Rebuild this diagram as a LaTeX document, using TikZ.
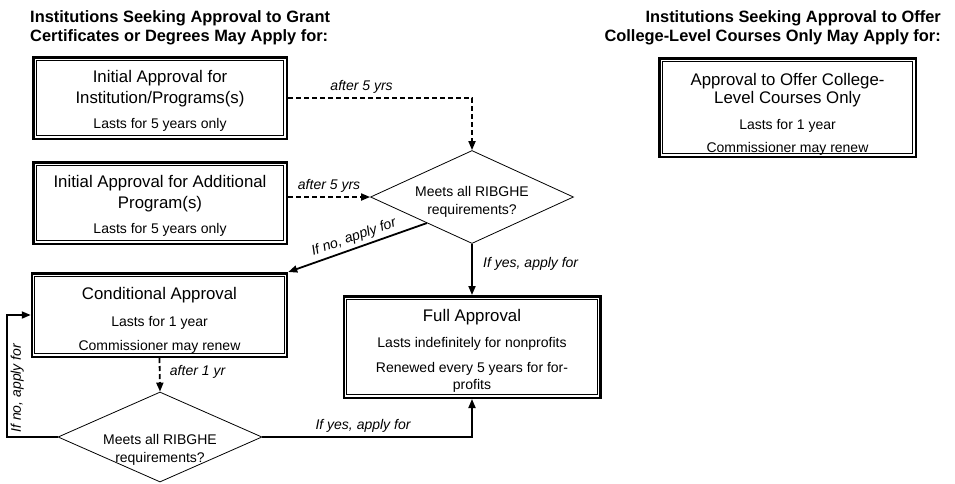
\documentclass[tikz,border=0pt]{standalone}
\usepackage{fontspec}
\setmainfont{Liberation Sans}
\usetikzlibrary{shapes.geometric,arrows.meta}

\newcommand{\boxtitle}{\fontsize{16.8}{20.5}\selectfont}
\newcommand{\boxsub}{\fontsize{14}{16.5}\selectfont}
\newcommand{\boxdrop}[1]{\rule{0pt}{#1}}
\newcommand{\checklines}[1]{\raisebox{#1}[0pt][0pt]{\begin{tabular}{@{}c@{}}Meets all RIBGHE\\requirements?\end{tabular}}}

\begin{document}
\begin{tikzpicture}[x=1pt, y=-1pt,
    heading/.style={font=\bfseries\fontsize{16.4}{19}\selectfont, inner sep=0pt},
    apbox/.style={draw, line width=2.5pt, align=center, inner sep=0pt, font=\boxtitle},
    decision/.style={draw, diamond, aspect=2.2, line width=0.8pt, inner sep=0pt, font=\fontsize{14}{18}\selectfont},
    link/.style={line width=1.8pt, -{Triangle[length=9pt,width=7pt]}},
    wait/.style={link, dash pattern=on 5pt off 3pt},
    tag/.style={font=\itshape\fontsize{14}{16}\selectfont}]
  \useasboundingbox (0,0) rectangle (955,483);

  \node[heading, anchor=west, align=left] (granttitle) at (30,28) {Institutions Seeking Approval to Grant\\Certificates or Degrees May Apply for:};
  \node[heading, anchor=east, align=right] (offertitle) at (941,28) {Institutions Seeking Approval to Offer\\College-Level Courses Only May Apply for:};

  \node[apbox, minimum width=253.5pt, minimum height=81.5pt] (initinst) at (160,98) {\boxdrop{18.3pt}Initial Approval for\\Institution/Programs(s)\\[4.5pt]\boxsub Lasts for 5 years only};
  \node[apbox, minimum width=253.5pt, minimum height=81.5pt] (initprog) at (160,203) {\boxdrop{18.3pt}Initial Approval for Additional\\Program(s)\\[4.5pt]\boxsub Lasts for 5 years only};
  \node[apbox, minimum width=255pt, minimum height=83.5pt] (cond) at (159.5,315) {\boxdrop{22.4pt}Conditional Approval\\[6.5pt]\boxsub Lasts for 1 year\\[3.5pt]\boxsub Commissioner may renew};
  \node[apbox, minimum width=256.5pt, minimum height=101.5pt] (full) at (472,347) {\boxdrop{20.3pt}Full Approval\\[5.5pt]\boxsub Lasts indefinitely for nonprofits\\[4.5pt]\boxsub Renewed every 5 years for for-\\[-3.5pt]\boxsub profits};
  \node[apbox, minimum width=256.5pt, minimum height=98.5pt] (offer) at (787.5,107.5) {\boxdrop{26.4pt}Approval to Offer College-\\[-2.5pt]Level Courses Only\\[5.5pt]\boxsub Lasts for 1 year\\[2.5pt]\boxsub Commissioner may renew};

  \foreach \b in {initinst,initprog,cond,full,offer}
    \draw[line width=1pt] ([shift={(4.2,4.2)}]\b.north west) rectangle ([shift={(-4.2,-4.2)}]\b.south east);

  \node[decision, minimum width=203pt, minimum height=93pt] (upcheck) at (472,197) {\checklines{-8.5pt}};
  \node[decision, minimum width=204pt, minimum height=90pt] (condcheck) at (160,437) {\checklines{-16pt}};

  \draw[wait] (initinst.east) -| node[tag, above, pos=0.2] {after 5 yrs} (upcheck.north);
  \draw[wait] (initprog.east |- upcheck.west) -- node[tag, above] {after 5 yrs} (upcheck.west);
  \draw[link] (upcheck.210) -- node[tag, sloped, above] {If no, apply for} (cond.north east);
  \draw[link] (upcheck.south) -- node[tag, right=7pt, pos=0.4] {If yes, apply for} (full.north);
  \draw[wait] (cond.south) -- node[tag, right=6pt, pos=0.4] {after 1 yr} (condcheck.north);
  \draw[link] (condcheck.east) -| node[tag, above, pos=0.24] {If yes, apply for} (full.south);
  \draw[link] (condcheck.west) -- ++(-51,0) |- node[tag, sloped, below, pos=0.2] {If no, apply for} (cond.west);
\end{tikzpicture}
\end{document}
